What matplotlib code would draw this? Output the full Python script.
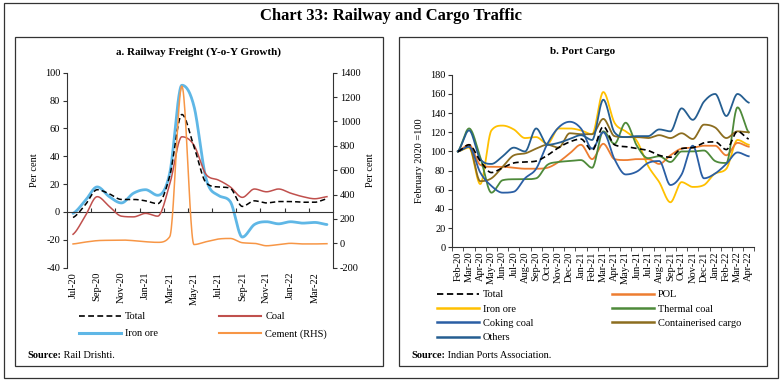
import numpy as np
import matplotlib
matplotlib.use("Agg")
import matplotlib.pyplot as plt
from matplotlib.lines import Line2D
from matplotlib.patches import Rectangle

plt.rcParams['font.family'] = ['Liberation Serif', 'DejaVu Serif']
plt.rcParams['axes.unicode_minus'] = False

# ---------------- data: panel a (Railway freight, y-o-y growth) ----------------
rail_months = ['Jul-20', 'Aug-20', 'Sep-20', 'Oct-20', 'Nov-20', 'Dec-20', 'Jan-21', 'Feb-21',
               'Mar-21', 'Apr-21', 'May-21', 'Jun-21', 'Jul-21', 'Aug-21', 'Sep-21', 'Oct-21',
               'Nov-21', 'Dec-21', 'Jan-22', 'Feb-22', 'Mar-22', 'Apr-22']
rail_total = [-4, 5, 16, 13, 9, 9, 8, 6, 26, 70, 47, 21, 18, 17, 4, 8, 6.5, 7.5, 7.5, 7, 7, 9.5]
rail_coal = [-16, -3, 11, 4, -3, -3.5, -1, -3, 20, 54, 48, 27, 23, 18, 10.5, 16.5, 14.5, 16.5, 13.5, 11, 9.5, 11]
rail_iron = [-1, 8, 18, 11, 6.5, 13.5, 16, 12, 28, 91, 76, 24, 12, 7.5, -18, -9, -7, -8.5, -7, -8, -7.5, -9]
rail_cement = [-5, 10, 22, 25, 27, 22, 13, 8, 55, 1290, -10, 13, 35, 40, 5, 0, -20, -10, 0, -5, -5, -3]

# ---------------- data: panel b (Port cargo, Feb 2020 = 100) ----------------
port_months = ['Feb-20', 'Mar-20', 'Apr-20', 'May-20', 'Jun-20', 'Jul-20', 'Aug-20', 'Sep-20',
               'Oct-20', 'Nov-20', 'Dec-20', 'Jan-21', 'Feb-21', 'Mar-21', 'Apr-21', 'May-21',
               'Jun-21', 'Jul-21', 'Aug-21', 'Sep-21', 'Oct-21', 'Nov-21', 'Dec-21', 'Jan-22',
               'Feb-22', 'Mar-22', 'Apr-22']
port_total = [100, 107, 90, 78, 83, 88, 89, 90, 96, 104, 110, 113, 101, 126, 107, 105, 103, 101,
              96, 94, 103, 104, 109, 110, 102, 121, 113]
port_pol = [100, 107, 86, 84, 84, 83, 82, 82, 83, 89, 98, 107, 92, 108, 92, 91, 92, 92, 87, 96,
            103, 104, 106, 106, 96, 109, 105]
port_iron = [100, 104, 66, 122, 127, 123, 114, 115, 108, 124, 124, 122, 118, 162, 130, 121, 111,
             85, 68, 47, 68, 63, 65, 77, 82, 112, 107]
port_thermal = [100, 124, 94, 57, 70, 71, 71, 72, 86, 89, 90, 91, 83, 121, 108, 130, 106, 93, 95,
                89, 100, 100, 101, 90, 88, 146, 120]
port_coking = [100, 105, 78, 64, 57, 58, 72, 82, 108, 125, 131, 124, 103, 120, 92, 76, 79, 88,
               90, 65, 76, 106, 72, 77, 87, 99, 95]
port_container = [100, 105, 69, 72, 84, 96, 98, 103, 107, 104, 119, 118, 118, 134, 116, 115, 115,
                  114, 117, 114, 119, 113, 128, 125, 114, 121, 120]
port_others = [100, 122, 92, 87, 95, 104, 100, 124, 107, 109, 113, 117, 112, 154, 120, 115, 116,
               116, 123, 121, 145, 133, 152, 160, 137, 160, 151]


def smooth(vals, n=24):
    """Smoothed line through the category points (Catmull-Rom tangents,
    limited so that the curve does not overshoot the data)."""
    y = np.asarray(vals, float)
    N = len(y)
    d = np.diff(y)
    m = np.zeros(N)
    for i in range(N):
        if i == 0:
            m[i] = d[0] / 2
        elif i == N - 1:
            m[i] = d[-1] / 2
        else:
            if d[i - 1] * d[i] <= 0:
                m[i] = 0.0
            else:
                m[i] = (d[i - 1] + d[i]) / 2
    # limit tangents (Fritsch-Carlson)
    for i in range(N - 1):
        if d[i] == 0:
            m[i] = m[i + 1] = 0
            continue
        a = m[i] / d[i]
        b = m[i + 1] / d[i]
        s = a * a + b * b
        if s > 9:
            tau = 3 / np.sqrt(s)
            m[i] = tau * a * d[i]
            m[i + 1] = tau * b * d[i]
    t = np.linspace(0, 1, n, endpoint=False)
    h00 = 2 * t**3 - 3 * t**2 + 1
    h10 = t**3 - 2 * t**2 + t
    h01 = -2 * t**3 + 3 * t**2
    h11 = t**3 - t**2
    xs, ys = [], []
    for i in range(N - 1):
        xs.append(i + t)
        ys.append(h00 * y[i] + h10 * m[i] + h01 * y[i + 1] + h11 * m[i + 1])
    xs.append(np.array([N - 1.0]))
    ys.append(np.array([y[-1]]))
    return np.concatenate(xs), np.concatenate(ys)


W, H = 782, 383
fig = plt.figure(figsize=(W / 100, H / 100), dpi=100)


def fx(px):
    return px / W


def fy(py):
    return 1 - py / H


# frames
fig.patches.append(Rectangle((fx(4), fy(378)), fx(778) - fx(4), fy(3) - fy(378),
                             transform=fig.transFigure, fill=False, lw=0.9, ec='#333333'))
for x0, x1 in [(15, 383), (399, 767)]:
    fig.patches.append(Rectangle((fx(x0), fy(366)), fx(x1) - fx(x0), fy(37) - fy(366),
                                 transform=fig.transFigure, fill=False, lw=0.9, ec='#333333'))

fig.text(0.5, fy(16), 'Chart 33: Railway and Cargo Traffic', ha='center', va='center',
         fontsize=12, fontweight='bold')
fig.text(fx(199), fy(52), 'a. Railway Freight (Y-o-Y Growth)', ha='center', va='center',
         fontsize=8, fontweight='bold')
fig.text(fx(583), fy(52), 'b. Port Cargo', ha='center', va='center',
         fontsize=8, fontweight='bold')

FS = 7.5
# ---------------- panel a ----------------
axL = fig.add_axes([fx(67), fy(267.7), fx(333) - fx(67), fy(72.7) - fy(267.7)])
axR = axL.twinx()
nL = len(rail_months)
xi = np.arange(nL)

x, y = smooth(rail_iron)
axL.plot(x, y, color='#5fb7e6', lw=2.0, solid_capstyle='round', zorder=2)
x, y = smooth(rail_coal)
axL.plot(x, y, color='#c0504d', lw=1.1, zorder=3)
x, y = smooth(rail_total)
axL.plot(x, y, color='black', lw=1.1, ls=(0, (3.5, 2)), zorder=4)
x, y = smooth(rail_cement)
axR.plot(x, y, color='#f79646', lw=1.1)

axL.set_xlim(-0.5, nL - 0.5)
axL.set_ylim(-40, 100)
axL.set_yticks(np.arange(-40, 101, 20))
axR.set_ylim(-200, 1400)
axR.set_yticks(np.arange(-200, 1401, 200))
axL.spines['top'].set_visible(False)
axL.spines['right'].set_visible(False)
axL.spines['bottom'].set_position(('data', 0))
axR.spines['top'].set_visible(False)
axR.spines['left'].set_visible(False)
axR.spines['bottom'].set_visible(False)
for sp in ['left', 'bottom']:
    axL.spines[sp].set_color('#333333')
    axL.spines[sp].set_linewidth(0.8)
axR.spines['right'].set_color('#333333')
axR.spines['right'].set_linewidth(0.8)
axL.set_xticks(np.arange(1.5, nL - 1, 2))
axL.tick_params(axis='x', direction='in', length=3, labelbottom=False, color='#333333')
axL.tick_params(axis='y', direction='out', length=3, labelsize=FS, color='#333333', pad=2)
axR.tick_params(axis='y', direction='out', length=3, labelsize=FS, color='#333333', pad=2)
axL.set_ylabel('Per cent', fontsize=FS, labelpad=4)
axR.set_ylabel('Per cent', fontsize=FS, labelpad=4)

secL = axL.secondary_xaxis(0.0)
secL.set_xticks(xi[::2])
secL.set_xticklabels(rail_months[::2], rotation=90, fontsize=FS)
secL.tick_params(length=0, pad=3)
secL.spines['bottom'].set_visible(False)

handlesL = [Line2D([], [], color='black', lw=1.2, ls=(0, (3.5, 2))),
            Line2D([], [], color='#5fb7e6', lw=2.2),
            Line2D([], [], color='#c0504d', lw=1.5),
            Line2D([], [], color='#f79646', lw=1.5)]
labelsL = ['Total', 'Iron ore', 'Coal', 'Cement (RHS)']
fig.legend(handlesL, labelsL, ncol=2, loc='upper left', bbox_to_anchor=(fx(79), fy(312)),
           frameon=False, fontsize=FS, handlelength=4.0, handletextpad=0.4,
           columnspacing=5.9, labelspacing=0.75, borderpad=0, borderaxespad=0)

t1 = fig.text(fx(27), fy(355), 'Source:', fontsize=FS, fontweight='bold', va='center')
axL.annotate(' Rail Drishti.', xy=(1, 0.5), xycoords=t1, va='center', ha='left', fontsize=FS)

# ---------------- panel b ----------------
axP = fig.add_axes([fx(452.3), fy(247.3), fx(754.3) - fx(452.3), fy(74.8) - fy(247.3)])
nP = len(port_months)
series = [
    (port_iron, '#ffc000', 'Iron ore'),
    (port_pol, '#ed7d31', 'POL'),
    (port_thermal, '#4e8a3a', 'Thermal coal'),
    (port_container, '#8c6d1f', 'Containerised cargo'),
    (port_coking, '#2a5ea4', 'Coking coal'),
    (port_others, '#255e91', 'Others'),
]
handles = {}
for vals, col, lab in series:
    x, y = smooth(vals)
    axP.plot(x, y, color=col, lw=1.3)
    handles[lab] = Line2D([], [], color=col, lw=1.8)
x, y = smooth(port_total)
axP.plot(x, y, color='black', lw=1.2, ls=(0, (3.5, 2)))
handles['Total'] = Line2D([], [], color='black', lw=1.3, ls=(0, (3.5, 2)))

axP.set_xlim(-0.5, nP - 0.5)
axP.set_ylim(0, 180)
axP.set_yticks(np.arange(0, 181, 20))
axP.set_xticks(np.arange(nP))
axP.set_xticklabels(port_months, rotation=90, fontsize=FS)
axP.set_xticks(np.arange(-0.5, nP, 1), minor=True)
axP.tick_params(axis='x', which='major', length=0, pad=3)
axP.tick_params(axis='x', which='minor', length=3, direction='out', color='#333333')
axP.tick_params(axis='y', direction='out', length=3, labelsize=FS, color='#333333', pad=2)
axP.spines['top'].set_visible(False)
axP.spines['right'].set_visible(False)
for sp in ['left', 'bottom']:
    axP.spines[sp].set_color('#333333')
    axP.spines[sp].set_linewidth(0.8)
axP.set_ylabel('February 2020 =100', fontsize=FS, labelpad=4)

orderP = ['Total', 'Iron ore', 'Coking coal', 'Others', 'POL', 'Thermal coal', 'Containerised cargo']
fig.legend([handles[k] for k in orderP], orderP, ncol=2, loc='upper left',
           bbox_to_anchor=(fx(437), fy(290)), frameon=False, fontsize=FS, handlelength=4.0,
           handletextpad=0.4, columnspacing=7.6, labelspacing=0.48, borderpad=0, borderaxespad=0)

t2 = fig.text(fx(411), fy(355), 'Source:', fontsize=FS, fontweight='bold', va='center')
axP.annotate(' Indian Ports Association.', xy=(1, 0.5), xycoords=t2, va='center', ha='left',
             fontsize=FS)

fig.savefig('out.png', dpi=100)
